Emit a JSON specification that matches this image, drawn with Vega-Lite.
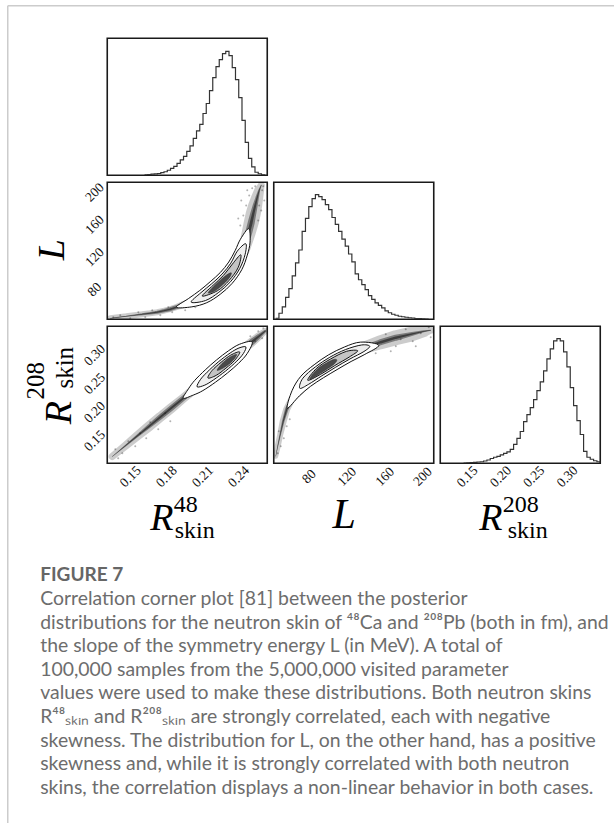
{
  "$schema": "https://vega.github.io/schema/vega-lite/v6.json",
  "background": "white",
  "padding": {"left": 6.25, "top": 4.25, "right": 0, "bottom": 0},
  "title": {
    "text": "FIGURE 7",
    "subtitle": [
      "Correlation corner plot [81] between the posterior",
      "distributions for the neutron skin of ⁴⁸Ca and ²⁰⁸Pb (both in fm), and",
      "the slope of the symmetry energy L (in MeV). A total of",
      "100,000 samples from the 5,000,000 visited parameter",
      "values were used to make these distributions. Both neutron skins",
      "R⁴⁸ₛₖᵢₙ and R²⁰⁸ₛₖᵢₙ are strongly correlated, each with negative",
      "skewness. The distribution for L, on the other hand, has a positive",
      "skewness and, while it is strongly correlated with both neutron",
      "skins, the correlation displays a non-linear behavior in both cases."
    ],
    "orient": "bottom",
    "anchor": "start",
    "frame": "bounds",
    "offset": -291,
    "dx": 33.75,
    "font": "Lato",
    "fontSize": 19,
    "fontWeight": "bold",
    "color": "#666666",
    "subtitleFont": "Lato",
    "subtitleFontSize": 19.4,
    "subtitleColor": "#6d6d6d",
    "subtitleLineHeight": 23.6,
    "subtitlePadding": 5
  },
  "datasets": {
    "h48": [
      {"r48":0.1620,"n":4},{"r48":0.1647,"n":6},{"r48":0.1674,"n":9},{"r48":0.1701,"n":11},{"r48":0.1728,"n":14},{"r48":0.1755,"n":21},{"r48":0.1782,"n":28},{"r48":0.1809,"n":40},{"r48":0.1836,"n":56},{"r48":0.1863,"n":72},{"r48":0.1890,"n":96},{"r48":0.1917,"n":124},{"r48":0.1944,"n":152},{"r48":0.1971,"n":192},{"r48":0.1998,"n":236},{"r48":0.2025,"n":296},{"r48":0.2052,"n":356},{"r48":0.2079,"n":408},{"r48":0.2106,"n":496},{"r48":0.2133,"n":576},{"r48":0.2160,"n":680},{"r48":0.2187,"n":784},{"r48":0.2214,"n":872},{"r48":0.2241,"n":928},{"r48":0.2268,"n":976},{"r48":0.2295,"n":994},{"r48":0.2322,"n":960},{"r48":0.2349,"n":864},{"r48":0.2376,"n":768},{"r48":0.2403,"n":624},{"r48":0.2430,"n":440},{"r48":0.2457,"n":264},{"r48":0.2484,"n":136},{"r48":0.2511,"n":68},{"r48":0.2538,"n":24},{"r48":0.2565,"n":12},{"r48":0.2592,"n":4},{"r48":0.2619,"n":0}
    ],
    "hL": [
      {"L":45.0,"n":8},{"L":48.5,"n":48},{"L":52.0,"n":99},{"L":55.5,"n":175},{"L":59.0,"n":246},{"L":62.5,"n":349},{"L":66.0,"n":452},{"L":69.5,"n":556},{"L":73.0,"n":706},{"L":76.5,"n":810},{"L":80.0,"n":905},{"L":83.5,"n":968},{"L":87.0,"n":1000},{"L":90.5,"n":984},{"L":94.0,"n":960},{"L":97.5,"n":921},{"L":101.0,"n":881},{"L":104.5,"n":817},{"L":108.0,"n":762},{"L":111.5,"n":706},{"L":115.0,"n":643},{"L":118.5,"n":587},{"L":122.0,"n":524},{"L":125.5,"n":460},{"L":129.0,"n":365},{"L":132.5,"n":317},{"L":136.0,"n":278},{"L":139.5,"n":238},{"L":143.0,"n":190},{"L":146.5,"n":159},{"L":150.0,"n":131},{"L":153.5,"n":111},{"L":157.0,"n":91},{"L":160.5,"n":67},{"L":164.0,"n":52},{"L":167.5,"n":40},{"L":171.0,"n":32},{"L":174.5,"n":24},{"L":178.0,"n":20},{"L":181.5,"n":16},{"L":185.0,"n":12},{"L":188.5,"n":10},{"L":192.0,"n":6},{"L":195.5,"n":5},{"L":199.0,"n":3},{"L":202.5,"n":2},{"L":206.0,"n":0}
    ],
    "h208": [
      {"r208":0.145,"n":2},{"r208":0.150,"n":4},{"r208":0.155,"n":6},{"r208":0.160,"n":7},{"r208":0.165,"n":10},{"r208":0.170,"n":12},{"r208":0.175,"n":18},{"r208":0.180,"n":26},{"r208":0.185,"n":38},{"r208":0.190,"n":48},{"r208":0.195,"n":56},{"r208":0.200,"n":68},{"r208":0.205,"n":80},{"r208":0.210,"n":92},{"r208":0.215,"n":112},{"r208":0.220,"n":152},{"r208":0.225,"n":200},{"r208":0.230,"n":255},{"r208":0.235,"n":335},{"r208":0.240,"n":391},{"r208":0.245,"n":447},{"r208":0.250,"n":511},{"r208":0.255,"n":583},{"r208":0.260,"n":654},{"r208":0.265,"n":742},{"r208":0.270,"n":838},{"r208":0.275,"n":918},{"r208":0.280,"n":982},{"r208":0.285,"n":1000},{"r208":0.290,"n":982},{"r208":0.295,"n":894},{"r208":0.300,"n":774},{"r208":0.305,"n":607},{"r208":0.310,"n":463},{"r208":0.315,"n":343},{"r208":0.320,"n":231},{"r208":0.325,"n":96},{"r208":0.330,"n":48},{"r208":0.335,"n":32},{"r208":0.340,"n":20},{"r208":0.345,"n":12},{"r208":0.350,"n":0}
    ],
    "cloudA": [
      {"r48":0.1335,"L":44.2,"spread":6,"dens":0.5},{"r48":0.1401,"L":45.5,"spread":6,"dens":1},{"r48":0.1468,"L":46.7,"spread":6,"dens":1},{"r48":0.1534,"L":48.0,"spread":6,"dens":1.5},{"r48":0.1601,"L":49.2,"spread":6,"dens":2},{"r48":0.1667,"L":50.5,"spread":6,"dens":2.5},{"r48":0.1726,"L":51.7,"spread":6,"dens":3},{"r48":0.1784,"L":53.6,"spread":6,"dens":3.5},{"r48":0.1834,"L":55.4,"spread":6,"dens":4},{"r48":0.1884,"L":57.9,"spread":6,"dens":4},{"r48":0.1942,"L":61.0,"spread":7,"dens":4},{"r48":0.2042,"L":65.4,"spread":8,"dens":4},{"r48":0.2166,"L":75.3,"spread":10,"dens":5},{"r48":0.2283,"L":90.2,"spread":10,"dens":5},{"r48":0.2382,"L":108.9,"spread":10,"dens":5},{"r48":0.2449,"L":130.0,"spread":12,"dens":6},{"r48":0.2486,"L":149.9,"spread":14,"dens":7},{"r48":0.2507,"L":162.3,"spread":15,"dens":7},{"r48":0.2524,"L":173.5,"spread":15,"dens":6},{"r48":0.2540,"L":183.4,"spread":14,"dens":5},{"r48":0.2557,"L":193.4,"spread":12,"dens":3.5},{"r48":0.2573,"L":202.1,"spread":10,"dens":2},{"r48":0.2590,"L":208.3,"spread":7,"dens":1}
    ],
    "cloudB": [
      {"r48":0.1351,"r208":0.1217,"spread":7,"dens":0.5},{"r48":0.1460,"r208":0.1405,"spread":8,"dens":1.5},{"r48":0.1556,"r208":0.1573,"spread":9,"dens":2.5},{"r48":0.1652,"r208":0.1739,"spread":10,"dens":4},{"r48":0.1749,"r208":0.1906,"spread":10,"dens":5},{"r48":0.1845,"r208":0.2072,"spread":10,"dens":5.5},{"r48":0.1942,"r208":0.2239,"spread":9,"dens":5},{"r48":0.2224,"r208":0.2727,"spread":10,"dens":5},{"r48":0.2520,"r208":0.3239,"spread":9,"dens":6},{"r48":0.2572,"r208":0.3327,"spread":8,"dens":4.5},{"r48":0.2623,"r208":0.3416,"spread":6,"dens":2.5}
    ],
    "cloudC": [
      {"L":45.1,"r208":0.1223,"spread":5,"dens":0.5},{"L":47.2,"r208":0.1398,"spread":6,"dens":1},{"L":49.9,"r208":0.1608,"spread":6,"dens":1.5},{"L":53.0,"r208":0.1836,"spread":7,"dens":2.5},{"L":56.7,"r208":0.2046,"spread":7,"dens":3.5},{"L":62.0,"r208":0.2221,"spread":7,"dens":4},{"L":90.5,"r208":0.2712,"spread":10,"dens":4},{"L":137.0,"r208":0.3115,"spread":12,"dens":5},{"L":156.0,"r208":0.3220,"spread":14,"dens":6},{"L":171.9,"r208":0.3299,"spread":15,"dens":6},{"L":187.7,"r208":0.3360,"spread":15,"dens":4},{"L":201.4,"r208":0.3412,"spread":12,"dens":2},{"L":208.8,"r208":0.3430,"spread":7,"dens":0.8}
    ],
    "dotsA": [
      {"r48":0.2416,"L":158.6},{"r48":0.2441,"L":171.0},{"r48":0.2465,"L":183.4},{"r48":0.2490,"L":195.8},{"r48":0.2515,"L":204.5},{"r48":0.2598,"L":202.1},{"r48":0.2615,"L":189.6},{"r48":0.2590,"L":177.2},{"r48":0.2565,"L":164.8},{"r48":0.2399,"L":167.3},{"r48":0.2424,"L":189.6},{"r48":0.2540,"L":207.0},{"r48":0.2607,"L":207.0},{"r48":0.2573,"L":183.4},{"r48":0.2474,"L":202.1},
      {"r48":0.1418,"L":48.0},{"r48":0.1501,"L":44.2},{"r48":0.1568,"L":51.7},{"r48":0.1626,"L":45.5},{"r48":0.1684,"L":54.2},{"r48":0.1751,"L":48.0},{"r48":0.1817,"L":57.9},{"r48":0.1850,"L":51.7},{"r48":0.1360,"L":45.5},{"r48":0.1958,"L":54.2},{"r48":0.2042,"L":57.9}
    ],
    "dotsB": [
      {"r48":0.1377,"r208":0.1345},{"r48":0.1435,"r208":0.1275},{"r48":0.1485,"r208":0.1485},{"r48":0.1401,"r208":0.1188},{"r48":0.1543,"r208":0.1398},{"r48":0.1584,"r208":0.1626},{"r48":0.1634,"r208":0.1538},{"r48":0.1667,"r208":0.1818},{"r48":0.1734,"r208":0.1696},{"r48":0.1792,"r208":0.1976},{"r48":0.1834,"r208":0.1836},
      {"r48":0.2565,"r208":0.3412},{"r48":0.2598,"r208":0.3290},{"r48":0.2607,"r208":0.3465},{"r48":0.2499,"r208":0.3325},{"r48":0.2540,"r208":0.3237}
    ],
    "dotsC": [
      {"L":161.3,"r208":0.3360},{"L":171.9,"r208":0.3150},{"L":182.4,"r208":0.3447},{"L":189.8,"r208":0.3237},{"L":198.3,"r208":0.3377},{"L":206.7,"r208":0.3482},{"L":208.8,"r208":0.3307},{"L":177.1,"r208":0.3272},{"L":193.0,"r208":0.3150},{"L":166.6,"r208":0.3062},{"L":150.7,"r208":0.3027},
      {"L":50.4,"r208":0.1398},{"L":53.6,"r208":0.1538},{"L":47.2,"r208":0.1275},{"L":56.7,"r208":0.1748},{"L":59.9,"r208":0.1871},{"L":48.3,"r208":0.1661}
    ],
    "contA": [
      {"lv":1,"k":0,"r48":0.1884,"L":57.9},{"lv":1,"k":1,"r48":0.2013,"L":58.3},{"lv":1,"k":2,"r48":0.2137,"L":63.4},{"lv":1,"k":3,"r48":0.2249,"L":73.8},{"lv":1,"k":4,"r48":0.2348,"L":87.2},{"lv":1,"k":5,"r48":0.2428,"L":104.1},{"lv":1,"k":6,"r48":0.2474,"L":122.0},{"lv":1,"k":7,"r48":0.2497,"L":138.2},{"lv":1,"k":8,"r48":0.2486,"L":154.8},{"lv":1,"k":9,"r48":0.2417,"L":141.7},{"lv":1,"k":10,"r48":0.2374,"L":128.0},{"lv":1,"k":11,"r48":0.2320,"L":113.6},{"lv":1,"k":12,"r48":0.2250,"L":100.7},{"lv":1,"k":13,"r48":0.2166,"L":89.3},{"lv":1,"k":14,"r48":0.2079,"L":78.5},{"lv":1,"k":15,"r48":0.1987,"L":68.7},
      {"lv":2,"k":0,"r48":0.2008,"L":64.1},{"lv":2,"k":1,"r48":0.2127,"L":66.1},{"lv":2,"k":2,"r48":0.2237,"L":76.2},{"lv":2,"k":3,"r48":0.2334,"L":89.2},{"lv":2,"k":4,"r48":0.2411,"L":105.5},{"lv":2,"k":5,"r48":0.2456,"L":123.0},{"lv":2,"k":6,"r48":0.2461,"L":136.2},{"lv":2,"k":7,"r48":0.2391,"L":127.0},{"lv":2,"k":8,"r48":0.2337,"L":112.2},{"lv":2,"k":9,"r48":0.2264,"L":98.7},{"lv":2,"k":10,"r48":0.2179,"L":86.9},{"lv":2,"k":11,"r48":0.2089,"L":75.8},
      {"lv":3,"k":0,"r48":0.2100,"L":71.6},{"lv":3,"k":1,"r48":0.2226,"L":78.2},{"lv":3,"k":2,"r48":0.2322,"L":90.8},{"lv":3,"k":3,"r48":0.2398,"L":106.7},{"lv":3,"k":4,"r48":0.2420,"L":122.5},{"lv":3,"k":5,"r48":0.2350,"L":111.0},{"lv":3,"k":6,"r48":0.2276,"L":97.1},{"lv":3,"k":7,"r48":0.2190,"L":84.9},
      {"lv":4,"k":0,"r48":0.2150,"L":75.3},{"lv":4,"k":1,"r48":0.2219,"L":79.4},{"lv":4,"k":2,"r48":0.2313,"L":92.1},{"lv":4,"k":3,"r48":0.2341,"L":100.2},{"lv":4,"k":4,"r48":0.2286,"L":95.8},{"lv":4,"k":5,"r48":0.2196,"L":83.6}
    ],
    "contB": [
      {"lv":1,"k":0,"r48":0.1942,"r208":0.2239},{"lv":1,"k":1,"r48":0.2027,"r208":0.2296},{"lv":1,"k":2,"r48":0.2105,"r208":0.2373},{"lv":1,"k":3,"r48":0.2209,"r208":0.2519},{"lv":1,"k":4,"r48":0.2308,"r208":0.2679},{"lv":1,"k":5,"r48":0.2402,"r208":0.2852},{"lv":1,"k":6,"r48":0.2474,"r208":0.3024},{"lv":1,"k":7,"r48":0.2514,"r208":0.3227},{"lv":1,"k":8,"r48":0.2411,"r208":0.3186},{"lv":1,"k":9,"r48":0.2317,"r208":0.3069},{"lv":1,"k":10,"r48":0.2218,"r208":0.2909},{"lv":1,"k":11,"r48":0.2125,"r208":0.2736},{"lv":1,"k":12,"r48":0.2036,"r208":0.2549},{"lv":1,"k":13,"r48":0.1985,"r208":0.2404},
      {"lv":2,"k":0,"r48":0.2057,"r208":0.2439},{"lv":2,"k":1,"r48":0.2121,"r208":0.2469},{"lv":2,"k":2,"r48":0.2193,"r208":0.2560},{"lv":2,"k":3,"r48":0.2294,"r208":0.2716},{"lv":2,"k":4,"r48":0.2387,"r208":0.2889},{"lv":2,"k":5,"r48":0.2442,"r208":0.3024},{"lv":2,"k":6,"r48":0.2462,"r208":0.3138},{"lv":2,"k":7,"r48":0.2405,"r208":0.3119},{"lv":2,"k":8,"r48":0.2332,"r208":0.3032},{"lv":2,"k":9,"r48":0.2232,"r208":0.2873},{"lv":2,"k":10,"r48":0.2140,"r208":0.2695},{"lv":2,"k":11,"r48":0.2084,"r208":0.2564},
      {"lv":3,"k":0,"r48":0.2147,"r208":0.2594},{"lv":3,"k":1,"r48":0.2216,"r208":0.2640},{"lv":3,"k":2,"r48":0.2296,"r208":0.2765},{"lv":3,"k":3,"r48":0.2370,"r208":0.2905},{"lv":3,"k":4,"r48":0.2411,"r208":0.3049},{"lv":3,"k":5,"r48":0.2336,"r208":0.2994},{"lv":3,"k":6,"r48":0.2256,"r208":0.2868},{"lv":3,"k":7,"r48":0.2182,"r208":0.2726},
      {"lv":4,"k":0,"r48":0.2224,"r208":0.2727},{"lv":4,"k":1,"r48":0.2287,"r208":0.2786},{"lv":4,"k":2,"r48":0.2352,"r208":0.2897},{"lv":4,"k":3,"r48":0.2385,"r208":0.3005},{"lv":4,"k":4,"r48":0.2329,"r208":0.2957},{"lv":4,"k":5,"r48":0.2264,"r208":0.2846}
    ],
    "contC": [
      {"lv":1,"k":0,"L":57.3,"r208":0.2064},{"lv":1,"k":1,"L":70.1,"r208":0.2281},{"lv":1,"k":2,"L":81.9,"r208":0.2448},{"lv":1,"k":3,"L":95.4,"r208":0.2597},{"lv":1,"k":4,"L":109.9,"r208":0.2741},{"lv":1,"k":5,"L":124.7,"r208":0.2883},{"lv":1,"k":6,"L":139.2,"r208":0.3007},{"lv":1,"k":7,"L":153.9,"r208":0.3167},{"lv":1,"k":8,"L":134.8,"r208":0.3222},{"lv":1,"k":9,"L":117.6,"r208":0.3136},{"lv":1,"k":10,"L":100.8,"r208":0.2998},{"lv":1,"k":11,"L":85.7,"r208":0.2826},{"lv":1,"k":12,"L":71.7,"r208":0.2625},{"lv":1,"k":13,"L":62.3,"r208":0.2371},
      {"lv":2,"k":0,"L":70.5,"r208":0.2414},{"lv":2,"k":1,"L":79.9,"r208":0.2484},{"lv":2,"k":2,"L":93.9,"r208":0.2633},{"lv":2,"k":3,"L":108.4,"r208":0.2782},{"lv":2,"k":4,"L":123.5,"r208":0.2927},{"lv":2,"k":5,"L":138.2,"r208":0.3057},{"lv":2,"k":6,"L":144.4,"r208":0.3150},{"lv":2,"k":7,"L":135.8,"r208":0.3172},{"lv":2,"k":8,"L":118.9,"r208":0.3092},{"lv":2,"k":9,"L":102.2,"r208":0.2957},{"lv":2,"k":10,"L":87.2,"r208":0.2791},{"lv":2,"k":11,"L":73.7,"r208":0.2589},
      {"lv":3,"k":0,"L":78.9,"r208":0.2554},{"lv":3,"k":1,"L":92.7,"r208":0.2660},{"lv":3,"k":2,"L":107.4,"r208":0.2811},{"lv":3,"k":3,"L":122.6,"r208":0.2959},{"lv":3,"k":4,"L":131.7,"r208":0.3071},{"lv":3,"k":5,"L":119.7,"r208":0.3060},{"lv":3,"k":6,"L":103.2,"r208":0.2928},{"lv":3,"k":7,"L":88.3,"r208":0.2763},
      {"lv":4,"k":0,"L":81.0,"r208":0.2572},{"lv":4,"k":1,"L":92.1,"r208":0.2676},{"lv":4,"k":2,"L":106.5,"r208":0.2836},{"lv":4,"k":3,"L":109.5,"r208":0.2913},{"lv":4,"k":4,"L":104.1,"r208":0.2903},{"lv":4,"k":5,"L":89.0,"r208":0.2748}
    ]
  },
  "columns": 3,
  "bounds": "flush",
  "spacing": {"row": 7, "column": 6.5},
  "concat": [
    {
      "width": 160, "height": 137,
      "layer": [
        {
          "data": {"name": "h48"},
          "mark": {"type": "line", "interpolate": "step-after", "color": "#333", "strokeWidth": 1.2, "clip": true},
          "encoding": {
            "x": {"field": "r48", "type": "quantitative", "scale": {"domain": [0.131, 0.264], "nice": false, "zero": false}, "axis": null},
            "y": {"field": "n", "type": "quantitative", "scale": {"domain": [0, 1100], "nice": false}, "axis": null}
          }
        },
        {
          "data": {"name": "h48"},
          "mark": {"type": "line", "strokeOpacity": 0, "clip": true},
          "encoding": {
            "x": {"field": "r48", "type": "quantitative", "scale": {"domain": [0.131, 0.264], "nice": false, "zero": false, "range": [-100, 507]},
                  "axis": {"orient": "top", "offset": 33, "domain": true, "domainColor": "#cccccc", "domainWidth": 1.5, "labels": false, "ticks": false, "title": null}},
            "y": {"field": "n", "type": "quantitative", "scale": {"domain": [0, 1100], "nice": false, "range": [785, -33]},
                  "axis": {"orient": "left", "offset": 100, "domain": true, "domainColor": "#cccccc", "domainWidth": 1.5, "labels": false, "ticks": false, "title": null}}
          }
        }
      ],
      "resolve": {"scale": {"x": "independent", "y": "independent"}, "axis": {"x": "independent", "y": "independent"}}
    },
    {"width": 160, "height": 137, "data": {"values": []}, "mark": "point", "view": {"stroke": null}},
    {"width": 160, "height": 137, "data": {"values": []}, "mark": "point", "view": {"stroke": null}},
    {
      "width": 160, "height": 137,
      "layer": [
        {
          "data": {"name": "cloudA"},
          "mark": {"type": "trail", "color": "#000", "opacity": 0.2, "clip": true},
          "encoding": {
            "x": {"field": "r48", "type": "quantitative", "scale": {"domain": [0.131, 0.264], "nice": false, "zero": false}, "axis": null},
            "y": {"field": "L", "type": "quantitative", "scale": {"domain": [43, 212], "nice": false, "zero": false},
                  "axis": {"values": [80, 120, 160, 200], "title": "L", "titleFontStyle": "italic", "titleFontSize": 38, "titleAngle": -90, "titleX": -44, "titleY": 67, "titleAlign": "center", "titleBaseline": "alphabetic"}},
            "size": {"field": "spread", "type": "quantitative", "scale": {"domain": [0, 10], "range": [0, 10]}, "legend": null}
          }
        },
        {
          "data": {"name": "dotsA"},
          "mark": {"type": "circle", "color": "#000", "opacity": 0.3, "size": 4, "clip": true},
          "encoding": {"x": {"field": "r48", "type": "quantitative", "axis": null}, "y": {"field": "L", "type": "quantitative", "axis": null}}
        },
        {
          "data": {"name": "cloudA"},
          "mark": {"type": "trail", "color": "#000", "opacity": 0.4, "clip": true},
          "encoding": {
            "x": {"field": "r48", "type": "quantitative", "axis": null},
            "y": {"field": "L", "type": "quantitative", "axis": null},
            "size": {"field": "dens", "type": "quantitative", "scale": {"domain": [0, 10], "range": [0, 10]}, "legend": null}
          }
        },
        {
          "data": {"name": "cloudA"},
          "mark": {"type": "trail", "color": "#000", "opacity": 0.5, "clip": true},
          "encoding": {
            "x": {"field": "r48", "type": "quantitative", "axis": null},
            "y": {"field": "L", "type": "quantitative", "axis": null},
            "size": {"field": "dens", "type": "quantitative", "scale": {"domain": [0, 10], "range": [0, 4]}, "legend": null}
          }
        },
        {
          "data": {"name": "contA"}, "transform": [{"filter": "datum.lv == 1"}],
          "mark": {"type": "line", "interpolate": "cardinal-closed", "fill": "#ffffff", "stroke": "#111", "strokeWidth": 1, "clip": true},
          "encoding": {"x": {"field": "r48", "type": "quantitative", "axis": null}, "y": {"field": "L", "type": "quantitative", "axis": null}, "order": {"field": "k"}}
        },
        {
          "data": {"name": "contA"}, "transform": [{"filter": "datum.lv == 2"}],
          "mark": {"type": "line", "interpolate": "cardinal-closed", "fill": "#eeeeee", "stroke": "#111", "strokeWidth": 1, "clip": true},
          "encoding": {"x": {"field": "r48", "type": "quantitative", "axis": null}, "y": {"field": "L", "type": "quantitative", "axis": null}, "order": {"field": "k"}}
        },
        {
          "data": {"name": "contA"}, "transform": [{"filter": "datum.lv == 3"}],
          "mark": {"type": "line", "interpolate": "cardinal-closed", "fill": "#c4c4c4", "stroke": "#111", "strokeWidth": 1, "clip": true},
          "encoding": {"x": {"field": "r48", "type": "quantitative", "axis": null}, "y": {"field": "L", "type": "quantitative", "axis": null}, "order": {"field": "k"}}
        },
        {
          "data": {"name": "contA"}, "transform": [{"filter": "datum.lv == 4"}],
          "mark": {"type": "line", "interpolate": "cardinal-closed", "fill": "#4a4a4a", "stroke": "#333", "strokeWidth": 0.6, "clip": true},
          "encoding": {"x": {"field": "r48", "type": "quantitative", "axis": null}, "y": {"field": "L", "type": "quantitative", "axis": null}, "order": {"field": "k"}}
        }
      ],
      "resolve": {"axis": {"x": "independent", "y": "independent"}, "scale": {"size": "independent"}}
    },
    {
      "width": 160, "height": 137,
      "data": {"name": "hL"},
      "mark": {"type": "line", "interpolate": "step-after", "color": "#333", "strokeWidth": 1.2, "clip": true},
      "encoding": {
        "x": {"field": "L", "type": "quantitative", "scale": {"domain": [43, 212], "nice": false, "zero": false}, "axis": null},
        "y": {"field": "n", "type": "quantitative", "scale": {"domain": [0, 1100], "nice": false}, "axis": null}
      }
    },
    {"width": 160, "height": 137, "data": {"values": []}, "mark": "point", "view": {"stroke": null}},
    {
      "width": 160, "height": 137,
      "layer": [
        {
          "data": {"name": "cloudB"},
          "mark": {"type": "trail", "color": "#000", "opacity": 0.2, "clip": true},
          "encoding": {
            "x": {"field": "r48", "type": "quantitative", "scale": {"domain": [0.131, 0.264], "nice": false, "zero": false},
                  "axis": {"values": [0.15, 0.18, 0.21, 0.24], "format": ".2f", "title": "R", "titleFontStyle": "italic", "titleFontSize": 38, "titleAngle": 0, "titleX": 54, "titleY": 66, "titleAlign": "center", "titleBaseline": "alphabetic"}},
            "y": {"field": "r208", "type": "quantitative", "scale": {"domain": [0.11, 0.35], "nice": false, "zero": false},
                  "axis": {"values": [0.15, 0.2, 0.25, 0.3], "format": ".2f", "title": "R", "titleFontStyle": "italic", "titleFontSize": 38, "titleAngle": -90, "titleX": -37, "titleY": 86, "titleAlign": "center", "titleBaseline": "alphabetic"}},
            "size": {"field": "spread", "type": "quantitative", "scale": {"domain": [0, 10], "range": [0, 10]}, "legend": null}
          }
        },
        {
          "data": {"name": "dotsB"},
          "mark": {"type": "circle", "color": "#000", "opacity": 0.3, "size": 4, "clip": true},
          "encoding": {"x": {"field": "r48", "type": "quantitative", "axis": null}, "y": {"field": "r208", "type": "quantitative", "axis": null}}
        },
        {
          "data": {"name": "cloudB"},
          "mark": {"type": "trail", "color": "#000", "opacity": 0.4, "clip": true},
          "encoding": {
            "x": {"field": "r48", "type": "quantitative", "axis": null},
            "y": {"field": "r208", "type": "quantitative", "axis": null},
            "size": {"field": "dens", "type": "quantitative", "scale": {"domain": [0, 10], "range": [0, 10]}, "legend": null}
          }
        },
        {
          "data": {"name": "cloudB"},
          "mark": {"type": "trail", "color": "#000", "opacity": 0.5, "clip": true},
          "encoding": {
            "x": {"field": "r48", "type": "quantitative", "axis": null},
            "y": {"field": "r208", "type": "quantitative", "axis": null},
            "size": {"field": "dens", "type": "quantitative", "scale": {"domain": [0, 10], "range": [0, 4]}, "legend": null}
          }
        },
        {
          "data": {"name": "contB"}, "transform": [{"filter": "datum.lv == 1"}],
          "mark": {"type": "line", "interpolate": "cardinal-closed", "fill": "#ffffff", "stroke": "#111", "strokeWidth": 1, "clip": true},
          "encoding": {
            "x": {"field": "r48", "type": "quantitative", "axis": {"orient": "top", "labels": false, "title": "48", "titleFontSize": 24, "titleAngle": 0, "titleX": 66, "titleY": 185, "titleAlign": "left", "titleBaseline": "alphabetic"}},
            "y": {"field": "r208", "type": "quantitative", "axis": {"orient": "right", "labels": false, "title": "skin", "titleFontSize": 24, "titleAngle": 0, "titleX": -93, "titleY": 211, "titleAlign": "left", "titleBaseline": "alphabetic"}},
            "order": {"field": "k"}
          }
        },
        {
          "data": {"name": "contB"}, "transform": [{"filter": "datum.lv == 2"}],
          "mark": {"type": "line", "interpolate": "cardinal-closed", "fill": "#eeeeee", "stroke": "#111", "strokeWidth": 1, "clip": true},
          "encoding": {"x": {"field": "r48", "type": "quantitative", "axis": null}, "y": {"field": "r208", "type": "quantitative", "axis": null}, "order": {"field": "k"}}
        },
        {
          "data": {"name": "contB"}, "transform": [{"filter": "datum.lv == 3"}],
          "mark": {"type": "line", "interpolate": "cardinal-closed", "fill": "#c4c4c4", "stroke": "#111", "strokeWidth": 1, "clip": true},
          "encoding": {"x": {"field": "r48", "type": "quantitative", "axis": null}, "y": {"field": "r208", "type": "quantitative", "axis": null}, "order": {"field": "k"}}
        },
        {
          "data": {"name": "contB"}, "transform": [{"filter": "datum.lv == 4"}],
          "mark": {"type": "line", "interpolate": "cardinal-closed", "fill": "#4a4a4a", "stroke": "#333", "strokeWidth": 0.6, "clip": true},
          "encoding": {"x": {"field": "r48", "type": "quantitative", "axis": null}, "y": {"field": "r208", "type": "quantitative", "axis": null}, "order": {"field": "k"}}
        }
      ],
      "resolve": {"axis": {"x": "independent", "y": "independent"}, "scale": {"size": "independent"}}
    },
    {
      "width": 160, "height": 137,
      "layer": [
        {
          "data": {"name": "cloudC"},
          "mark": {"type": "trail", "color": "#000", "opacity": 0.2, "clip": true},
          "encoding": {
            "x": {"field": "L", "type": "quantitative", "scale": {"domain": [43, 212], "nice": false, "zero": false},
                  "axis": {"values": [80, 120, 160, 200], "title": "L", "titleFontStyle": "italic", "titleFontSize": 42, "titleAngle": 0, "titleX": 70, "titleY": 64, "titleAlign": "center", "titleBaseline": "alphabetic"}},
            "y": {"field": "r208", "type": "quantitative", "scale": {"domain": [0.11, 0.35], "nice": false, "zero": false},
                  "axis": {"labels": false, "title": "208", "titleFontSize": 25, "titleAngle": -90, "titleX": -230, "titleY": 54, "titleAlign": "center", "titleBaseline": "alphabetic"}},
            "size": {"field": "spread", "type": "quantitative", "scale": {"domain": [0, 10], "range": [0, 10]}, "legend": null}
          }
        },
        {
          "data": {"name": "dotsC"},
          "mark": {"type": "circle", "color": "#000", "opacity": 0.3, "size": 4, "clip": true},
          "encoding": {"x": {"field": "L", "type": "quantitative", "axis": null}, "y": {"field": "r208", "type": "quantitative", "axis": null}}
        },
        {
          "data": {"name": "cloudC"},
          "mark": {"type": "trail", "color": "#000", "opacity": 0.4, "clip": true},
          "encoding": {
            "x": {"field": "L", "type": "quantitative", "axis": null},
            "y": {"field": "r208", "type": "quantitative", "axis": null},
            "size": {"field": "dens", "type": "quantitative", "scale": {"domain": [0, 10], "range": [0, 10]}, "legend": null}
          }
        },
        {
          "data": {"name": "cloudC"},
          "mark": {"type": "trail", "color": "#000", "opacity": 0.5, "clip": true},
          "encoding": {
            "x": {"field": "L", "type": "quantitative", "axis": null},
            "y": {"field": "r208", "type": "quantitative", "axis": null},
            "size": {"field": "dens", "type": "quantitative", "scale": {"domain": [0, 10], "range": [0, 4]}, "legend": null}
          }
        },
        {
          "data": {"name": "contC"}, "transform": [{"filter": "datum.lv == 1"}],
          "mark": {"type": "line", "interpolate": "cardinal-closed", "fill": "#ffffff", "stroke": "#111", "strokeWidth": 1, "clip": true},
          "encoding": {
            "x": {"field": "L", "type": "quantitative", "axis": null},
            "y": {"field": "r208", "type": "quantitative", "axis": {"orient": "right", "labels": false, "title": "skin", "titleFontSize": 25, "titleAngle": -90, "titleX": -361, "titleY": 41, "titleAlign": "center", "titleBaseline": "alphabetic"}},
            "order": {"field": "k"}
          }
        },
        {
          "data": {"name": "contC"}, "transform": [{"filter": "datum.lv == 2"}],
          "mark": {"type": "line", "interpolate": "cardinal-closed", "fill": "#eeeeee", "stroke": "#111", "strokeWidth": 1, "clip": true},
          "encoding": {"x": {"field": "L", "type": "quantitative", "axis": null}, "y": {"field": "r208", "type": "quantitative", "axis": null}, "order": {"field": "k"}}
        },
        {
          "data": {"name": "contC"}, "transform": [{"filter": "datum.lv == 3"}],
          "mark": {"type": "line", "interpolate": "cardinal-closed", "fill": "#c4c4c4", "stroke": "#111", "strokeWidth": 1, "clip": true},
          "encoding": {"x": {"field": "L", "type": "quantitative", "axis": null}, "y": {"field": "r208", "type": "quantitative", "axis": null}, "order": {"field": "k"}}
        },
        {
          "data": {"name": "contC"}, "transform": [{"filter": "datum.lv == 4"}],
          "mark": {"type": "line", "interpolate": "cardinal-closed", "fill": "#4a4a4a", "stroke": "#333", "strokeWidth": 0.6, "clip": true},
          "encoding": {"x": {"field": "L", "type": "quantitative", "axis": null}, "y": {"field": "r208", "type": "quantitative", "axis": null}, "order": {"field": "k"}}
        }
      ],
      "resolve": {"axis": {"x": "independent", "y": "independent"}, "scale": {"size": "independent"}}
    },
    {
      "width": 160, "height": 137,
      "layer": [
        {
          "data": {"name": "h208"},
          "mark": {"type": "line", "interpolate": "step-after", "color": "#333", "strokeWidth": 1.2, "clip": true},
          "encoding": {
            "x": {"field": "r208", "type": "quantitative", "scale": {"domain": [0.11, 0.35], "nice": false, "zero": false},
                  "axis": {"values": [0.15, 0.2, 0.25, 0.3], "format": ".2f", "title": "R", "titleFontStyle": "italic", "titleFontSize": 38, "titleAngle": 0, "titleX": 50, "titleY": 66, "titleAlign": "center", "titleBaseline": "alphabetic"}},
            "y": {"field": "n", "type": "quantitative", "scale": {"domain": [0, 1100], "nice": false}, "axis": null}
          }
        },
        {
          "data": {"name": "h208"},
          "mark": {"type": "line", "strokeOpacity": 0, "clip": true},
          "encoding": {
            "x": {"field": "r208", "type": "quantitative", "axis": {"orient": "top", "labels": false, "title": "208", "titleFontSize": 24, "titleAngle": 0, "titleX": 62, "titleY": 185, "titleAlign": "left", "titleBaseline": "alphabetic"}},
            "y": {"field": "n", "type": "quantitative", "axis": {"orient": "right", "labels": false, "title": "skin", "titleFontSize": 24, "titleAngle": 0, "titleX": -93, "titleY": 211, "titleAlign": "left", "titleBaseline": "alphabetic"}}
          }
        }
      ],
      "resolve": {"axis": {"x": "independent", "y": "independent"}}
    }
  ],
  "config": {
    "view": {"stroke": "#1a1a1a", "strokeWidth": 1.6},
    "axis": {
      "grid": false, "domain": false, "ticks": false, "tickSize": 0,
      "labelFont": "Liberation Serif", "labelFontSize": 13.5, "labelColor": "#111",
      "labelAngle": -45, "labelAlign": "center", "labelBaseline": "middle", "labelPadding": 13,
      "labelOverlap": false, "labelFlush": false,
      "titleFont": "Liberation Serif", "titleFontWeight": "normal", "titleColor": "#000"
    }
  }
}
